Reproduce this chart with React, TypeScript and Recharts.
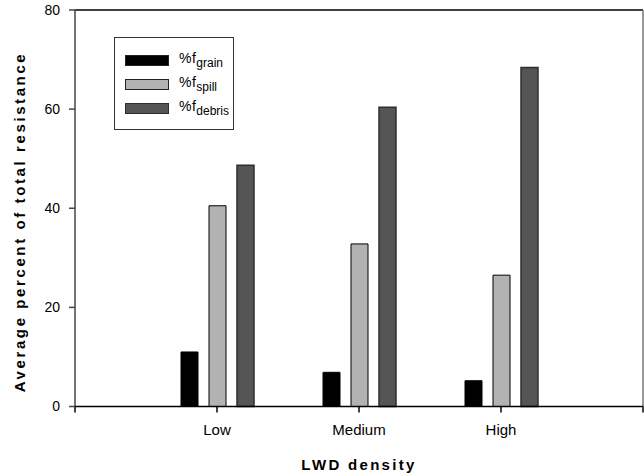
import { BarChart, Bar, XAxis, YAxis, Legend, ReferenceLine } from 'recharts';

// LWD density classes, placed at 1..3 on a 0..4 axis
const categories = ['Low', 'Medium', 'High'];
const grain = [11.0, 6.9, 5.2];
const spill = [40.5, 32.8, 26.5];
const debris = [48.7, 60.4, 68.4];
const yTicks = [0, 20, 40, 60, 80];
const xTicks = [0, 1, 2, 3, 4];

const series = [
  { key: 'grain', sub: 'grain', fill: '#000000', stroke: '#000000' },
  { key: 'spill', sub: 'spill', fill: '#b2b2b2', stroke: '#000000' },
  { key: 'debris', sub: 'debris', fill: '#555555', stroke: '#2e2e2e' },
];

const data = categories.map((name, i) => ({
  x: i + 1,
  name,
  grain: grain[i],
  spill: spill[i],
  debris: debris[i],
}));

const font = 'Arial, "Liberation Sans", sans-serif';

const LegendBox = () => (
  <div
    style={{
      border: '1px solid #333',
      width: 120,
      height: 93,
      boxSizing: 'border-box',
      paddingTop: 10,
      paddingLeft: 10,
      fontFamily: font,
      fontSize: 14,
      color: '#000',
      background: '#fff',
    }}
  >
    {series.map((s) => (
      <div key={s.key} style={{ display: 'flex', alignItems: 'center', height: 24 }}>
        <div
          style={{
            width: 44,
            height: 11,
            background: s.fill,
            border: `1px solid ${s.stroke === '#000000' ? '#222' : s.stroke}`,
            boxSizing: 'border-box',
            marginRight: 10,
          }}
        />
        <span style={{ lineHeight: '14px', letterSpacing: 0.5 }}>
          %f<sub style={{ fontSize: 12, verticalAlign: '-4px', letterSpacing: 0 }}>{s.sub}</sub>
        </span>
      </div>
    ))}
  </div>
);

export default function App() {
  return (
    <div style={{ position: 'absolute', left: 0, top: 0, background: '#fff' }}>
      <BarChart
        width={644}
        height={474}
        data={data}
        margin={{ top: 10, right: 1, left: 0, bottom: 0 }}
        barSize={17}
        barGap={11}
      >
        <XAxis
          dataKey="x"
          type="number"
          domain={[0, 4]}
          ticks={xTicks}
          allowDecimals={false}
          tickFormatter={(v: number) => categories[v - 1] ?? ''}
          height={67.5}
          tickSize={6}
          tickMargin={12}
          stroke="#000"
          strokeWidth={1.5}
          tick={{ fill: '#000', fontSize: 15, fontFamily: font }}
          label={{
            content: () => (
              <text
                x={359}
                y={470}
                textAnchor="middle"
                fontFamily={font}
                fontSize={15}
                fontWeight="bold"
                letterSpacing={2.3}
                fill="#000"
              >
                LWD density
              </text>
            ),
          }}
        />
        <YAxis
          type="number"
          domain={[0, 80]}
          ticks={yTicks}
          width={75}
          tickSize={6}
          tickMargin={9}
          stroke="#444"
          strokeWidth={1.5}
          tick={{ fill: '#000', fontSize: 14, fontFamily: font }}
          label={{
            content: () => (
              <text
                x={19}
                y={222}
                transform="rotate(-90, 19, 222)"
                textAnchor="middle"
                dominantBaseline="central"
                fontFamily={font}
                fontSize={15}
                fontWeight="bold"
                letterSpacing={2.6}
                fill="#000"
              >
                Average percent of total resistance
              </text>
            ),
          }}
        />
        <ReferenceLine y={80} stroke="#000" strokeWidth={1.5} />
        <ReferenceLine x={4} stroke="#777" strokeWidth={1.5} />
        <Legend
          layout="vertical"
          align="center"
          verticalAlign="middle"
          wrapperStyle={{ left: 114, top: 37, width: 120 }}
          content={() => <LegendBox />}
        />
        {series.map((s) => (
          <Bar
            key={s.key}
            dataKey={s.key}
            fill={s.fill}
            stroke={s.stroke}
            strokeWidth={s.key === 'debris' ? 1.5 : 1}
            isAnimationActive={false}
          />
        ))}
      </BarChart>
    </div>
  );
}
